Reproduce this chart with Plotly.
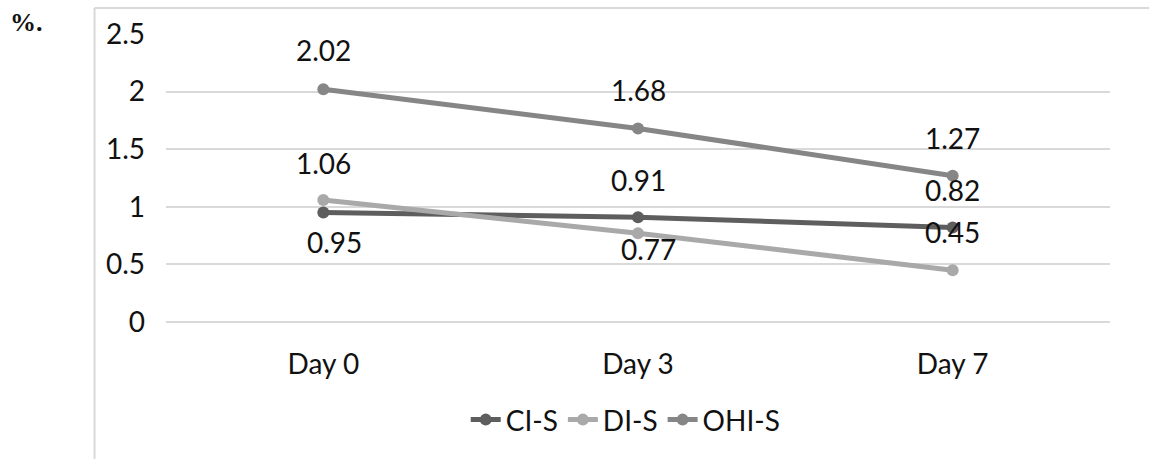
import plotly.graph_objects as go

categories = ["Day 0", "Day 3", "Day 7"]
ci_s = [0.95, 0.91, 0.82]
di_s = [1.06, 0.77, 0.45]
ohi_s = [2.02, 1.68, 1.27]
y_ticks = [0, 0.5, 1, 1.5, 2, 2.5]
y_tick_text = ["0", "0.5", "1", "1.5", "2", "2.5"]

# label offsets (pixels): (xshift, yshift) per point
ci_offsets = [(11, -29), (0, 37), (0, 38)]
di_offsets = [(0, 37), (10, -16), (0, 38)]
ohi_offsets = [(0, 39), (0, 38), (0, 38)]

series = [
    ("CI-S", ci_s, "#5e5e5e", ci_offsets),
    ("DI-S", di_s, "#a9a9a9", di_offsets),
    ("OHI-S", ohi_s, "#868686", ohi_offsets),
]

FONT = "Lato, 'Open Sans', sans-serif"
TXT = "#111111"
fig = go.Figure()
annotations = []
for name, vals, color, offs in series:
    fig.add_trace(go.Scatter(
        x=categories, y=vals, name=name, mode="lines+markers",
        line=dict(color=color, width=5),
        marker=dict(color=color, size=12),
    ))
    for c, v, (dx, dy) in zip(categories, vals, offs):
        annotations.append(dict(
            x=c, y=v, xref="x", yref="y", text=f"{v:.2f}", showarrow=False,
            xshift=dx, yshift=dy, yanchor="middle",
            font=dict(family=FONT, size=28, color=TXT),
        ))

annotations.append(dict(
    x=-0.167, y=1.04, xref="paper", yref="paper", text="<b>%.</b>", showarrow=False,
    xanchor="left", yanchor="middle",
    font=dict(family="'Liberation Serif', 'Times New Roman', serif", size=26, color=TXT),
))

fig.update_layout(
    width=1149, height=459,
    margin=dict(l=166, r=39, t=34, b=137),
    paper_bgcolor="white", plot_bgcolor="white",
    font=dict(family=FONT, size=28, color=TXT),
    showlegend=True,
    legend=dict(orientation="h", x=0.487, xanchor="center", y=-0.34, yanchor="middle",
                font=dict(family=FONT, size=28, color=TXT),
                itemwidth=30, tracegroupgap=0),
    annotations=annotations,
    shapes=[
        dict(type="line", xref="paper", yref="paper", x0=-0.0757, x1=-0.0757,
             y0=1.0903, y1=-0.48, line=dict(color="#d9d9d9", width=2)),
        dict(type="line", xref="paper", yref="paper", x0=-0.0757, x1=1.05,
             y0=1.0903, y1=1.0903, line=dict(color="#d9d9d9", width=2)),
    ],
)
fig.update_xaxes(
    type="category", range=[-0.5, 2.5], showgrid=False, showline=False, zeroline=False,
    ticks="", ticklabelstandoff=23, tickfont=dict(family=FONT, size=28, color=TXT),
)
fig.update_yaxes(
    range=[0, 2.5], tickvals=y_ticks, ticktext=y_tick_text, showgrid=True,
    gridcolor="#d9d9d9", gridwidth=2, zeroline=True, zerolinecolor="#d9d9d9", zerolinewidth=2,
    showline=False, ticks="", ticklabelstandoff=20,
    tickfont=dict(family=FONT, size=28, color=TXT),
)
fig.write_html("out.html")
